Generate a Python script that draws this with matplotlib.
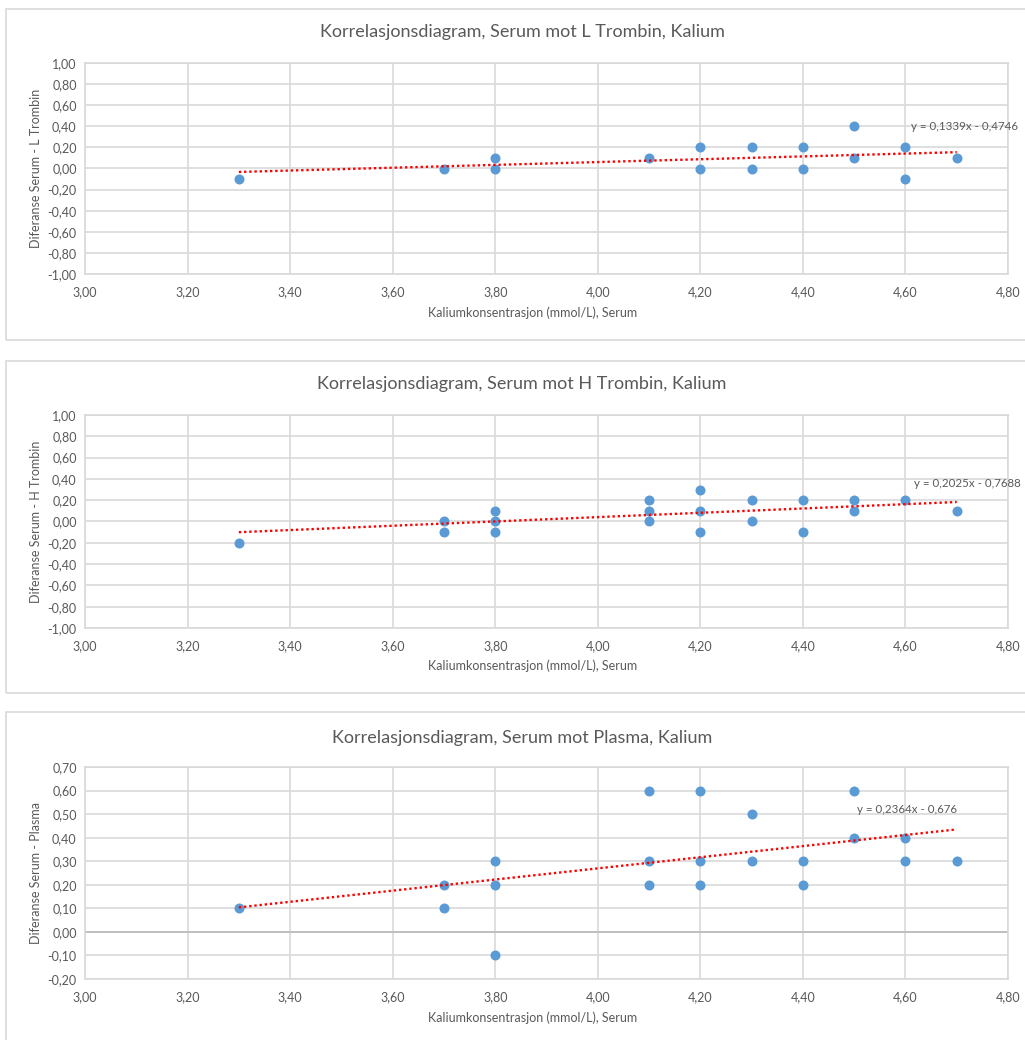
import matplotlib.pyplot as plt
from matplotlib.patches import Rectangle
from matplotlib.ticker import FuncFormatter, MultipleLocator

plt.rcParams['font.family'] = ['Lato', 'DejaVu Sans']

# Data
x_l = [3.3, 3.7, 3.8, 3.8, 4.1, 4.2, 4.2, 4.3, 4.3, 4.4, 4.4, 4.5, 4.5, 4.6, 4.6, 4.7]
y_l = [-0.10, 0.00, 0.10, 0.00, 0.10, 0.20, 0.00, 0.20, 0.00, 0.20, 0.00, 0.40, 0.10, 0.20, -0.10, 0.10]

x_h = [3.3, 3.7, 3.7, 3.8, 3.8, 3.8, 4.1, 4.1, 4.1, 4.2, 4.2, 4.2, 4.3, 4.3, 4.4, 4.4, 4.5, 4.5, 4.6, 4.7]
y_h = [-0.20, 0.00, -0.10, 0.10, 0.00, -0.10, 0.20, 0.10, 0.00, 0.30, 0.10, -0.10, 0.20, 0.00, 0.20, -0.10, 0.20, 0.10, 0.20, 0.10]

x_p = [3.3, 3.7, 3.7, 3.8, 3.8, 3.8, 4.1, 4.1, 4.1, 4.2, 4.2, 4.2, 4.3, 4.3, 4.4, 4.4, 4.5, 4.5, 4.6, 4.6, 4.7]
y_p = [0.10, 0.20, 0.10, 0.30, 0.20, -0.10, 0.60, 0.30, 0.20, 0.60, 0.30, 0.20, 0.50, 0.30, 0.30, 0.20, 0.60, 0.40, 0.40, 0.30, 0.30]

# trendline coefficients as shown on the chart
coef_l = (0.1339, -0.4746)
coef_h = (0.2025, -0.7688)
coef_p = (0.2364, -0.676)

titles = ['Korrelasjonsdiagram, Serum mot L Trombin, Kalium',
          'Korrelasjonsdiagram, Serum mot H Trombin, Kalium',
          'Korrelasjonsdiagram, Serum mot Plasma, Kalium']
ylabels = ['Diferanse Serum - L Trombin', 'Diferanse Serum - H Trombin', 'Diferanse Serum - Plasma']
eq_texts = ['y = 0,1339x - 0,4746', 'y = 0,2025x - 0,7688', 'y = 0,2364x - 0,676']

W, H = 1025, 1040
fig = plt.figure(figsize=(W / 100, H / 100), dpi=100)

grid_c = '#d9d9d9'
text_c = '#595959'
dot_c = '#5b9bd5'

comma = FuncFormatter(lambda v, p: f'{v:.2f}'.replace('.', ','))

# pixel layout of each chart: box top/bottom, plot top/bottom, title y, xlabel y
layout = [
    dict(box=(9, 340), plot=(63, 274), title=32, xlab=313, ylim=(-1.0, 1.0), step=0.2, eq=(4.61, 0.40)),
    dict(box=(361, 693), plot=(415, 628), title=384, xlab=666, ylim=(-1.0, 1.0), step=0.2, eq=(4.617, 0.36)),
    dict(box=(712, 1050), plot=(767, 979), title=738, xlab=1018, ylim=(-0.2, 0.7), step=0.1, eq=(4.505, 0.52)),
]
series = [(x_l, y_l, coef_l), (x_h, y_h, coef_h), (x_p, y_p, coef_p)]

for i, (lay, (xs, ys, coef)) in enumerate(zip(layout, series)):
    b0, b1 = lay['box']
    fig.patches.append(Rectangle((6 / W, 1 - b1 / H), 1.1, (b1 - b0) / H,
                                 transform=fig.transFigure, fill=False,
                                 edgecolor=grid_c, linewidth=1.2))
    p0, p1 = lay['plot']
    ax = fig.add_axes([85 / W, 1 - p1 / H, 923 / W, (p1 - p0) / H])
    ax.set_xlim(3.0, 4.8)
    ax.set_ylim(*lay['ylim'])
    ax.xaxis.set_major_locator(MultipleLocator(0.2))
    ax.yaxis.set_major_locator(MultipleLocator(lay['step']))
    ax.xaxis.set_major_formatter(comma)
    ax.yaxis.set_major_formatter(comma)
    ax.grid(True, color=grid_c, linewidth=1.2)
    ax.set_axisbelow(True)
    for s in ax.spines.values():
        s.set_color(grid_c)
        s.set_linewidth(1.2)
    ax.tick_params(length=0, labelsize=9, colors=text_c, pad=6)
    ax.tick_params(axis='x', pad=9)

    if i == 2:
        ax.axhline(0, color='#bfbfbf', linewidth=1.4, zorder=1)

    ax.scatter(xs, ys, s=52, color=dot_c, zorder=3, linewidths=0)
    m, c = coef
    tx = [min(xs), max(xs)]
    ax.plot(tx, [m * t + c for t in tx], color='#ff0000', linestyle=(0, (1, 1.2)),
            linewidth=1.7, zorder=4)
    ax.text(lay['eq'][0], lay['eq'][1], eq_texts[i], fontsize=8.3, color=text_c,
            va='center', ha='left', clip_on=False)

    fig.text(522 / W, 1 - lay['title'] / H, titles[i], ha='center', va='center',
             fontsize=13, color=text_c)
    fig.text(533 / W, 1 - lay['xlab'] / H, 'Kaliumkonsentrasjon (mmol/L), Serum',
             ha='center', va='center', fontsize=9, color=text_c)
    fig.text(36 / W, 1 - (p0 + p1) / 2 / H, ylabels[i], ha='center', va='center',
             rotation=90, fontsize=9, color=text_c)

fig.savefig('out.png', dpi=100)
